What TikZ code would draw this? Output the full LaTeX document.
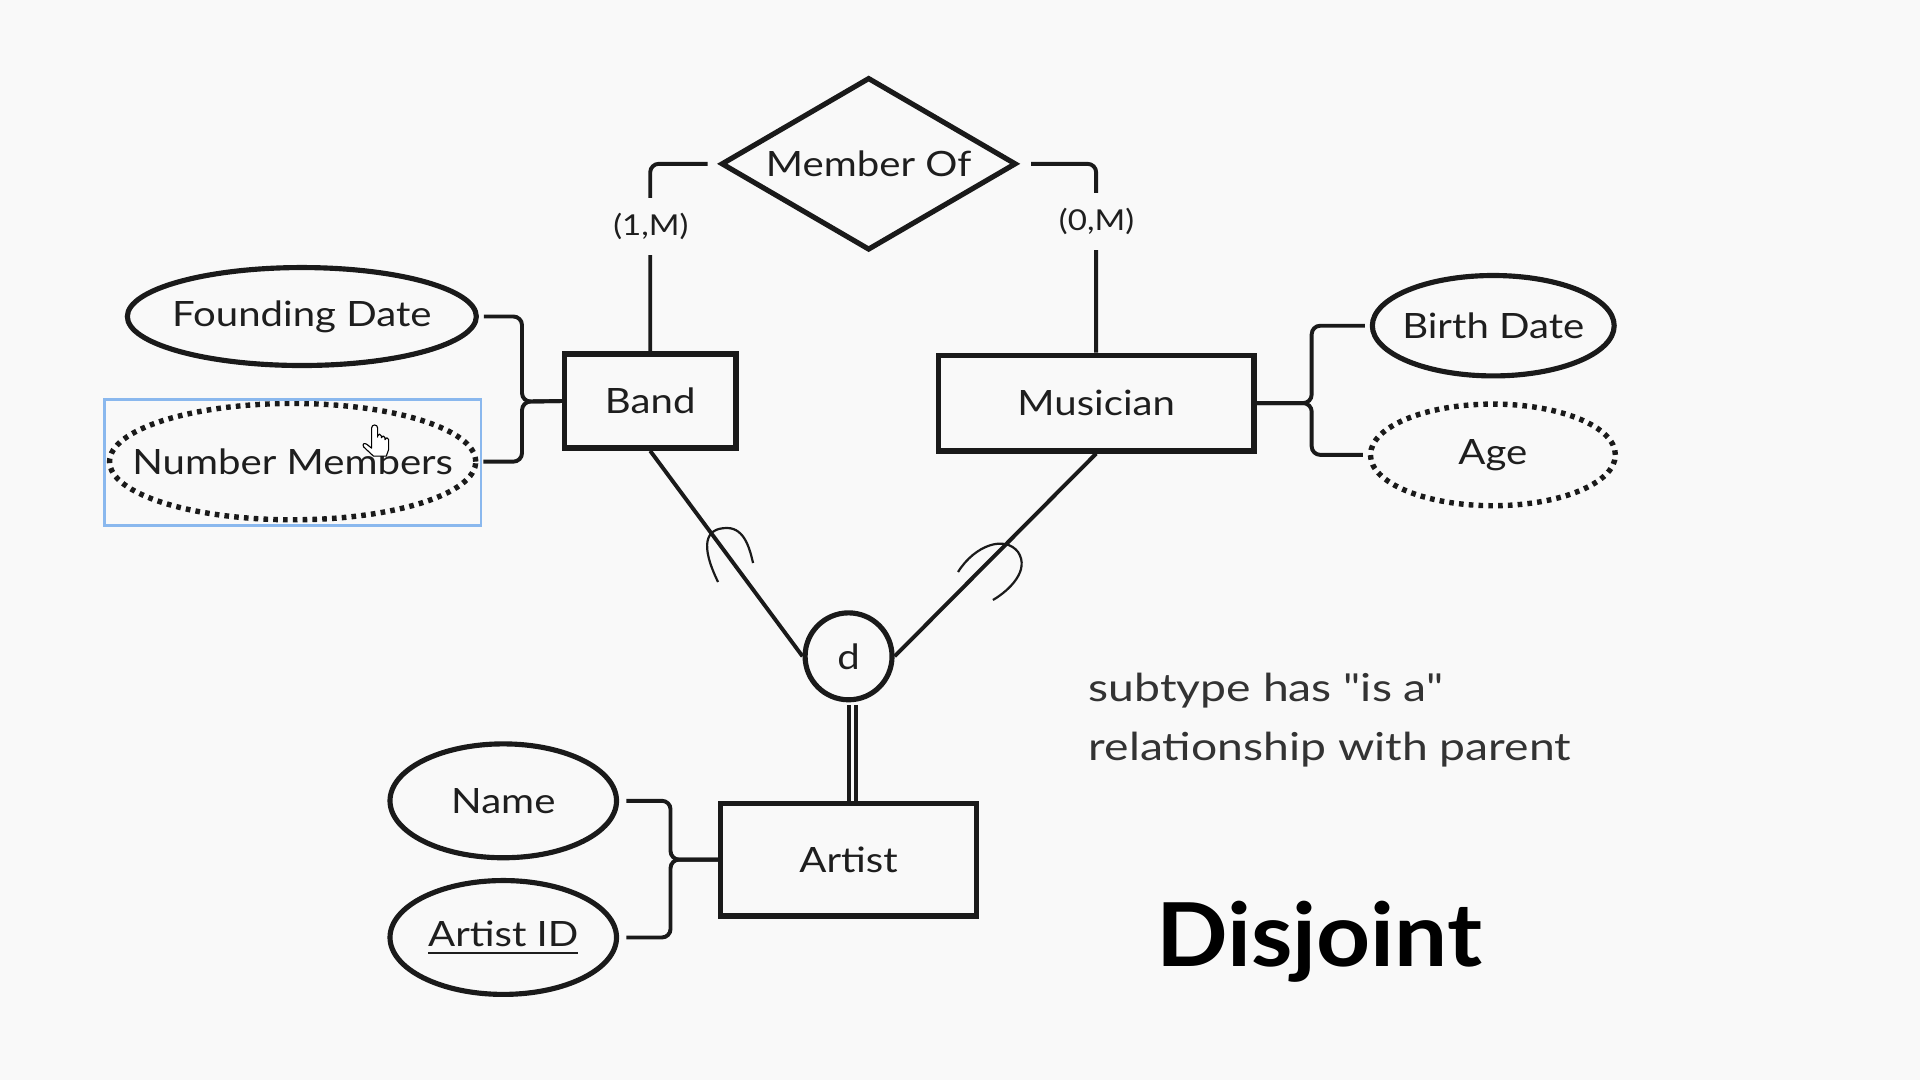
\documentclass[tikz,border=0pt]{standalone}
\usepackage{fontspec}
\setmainfont[FakeStretch=1.15]{Lato}
\newfontfamily\notefamily[FakeStretch=1.2]{Lato}
\newfontfamily\djfamily[FakeStretch=1.07]{Lato}
\usetikzlibrary{shapes.geometric}
\definecolor{bg}{HTML}{F9F9F9}
\definecolor{ink}{HTML}{1A1A1A}
\definecolor{txt}{HTML}{1E1E1E}
\definecolor{note}{HTML}{333333}
\definecolor{selblue}{RGB}{138,184,238}
\newcommand\lblfont{\fontsize{28.5}{34}\selectfont}
\newcommand\cardfont{\fontsize{23.5}{28}\selectfont}
\newcommand\notefont{\notefamily\fontsize{31.5}{36}\selectfont}
\newcommand\djfont{\djfamily\bfseries\fontsize{72}{80}\selectfont}
\newcommand\thickul[1]{\setbox0\hbox{#1}\rlap{\rule[-6.5pt]{\wd0}{2pt}}\box0}
\newcommand\zw[1]{\makebox[0pt]{#1}}
\newcommand\straightq{{\addfontfeatures{Ligatures=TeXOff}"}}
\begin{document}
\begin{tikzpicture}[x=1pt,y=-1pt,
  entity/.style={draw=ink, line width=4.4pt, rectangle, inner sep=0pt, text=txt, font=\lblfont},
  attr/.style={draw=ink, line width=4.2pt, ellipse, inner sep=0pt, text=txt, font=\lblfont},
  derived/.style={attr, line width=4.4pt, dash pattern=on 3.8pt off 4.2pt},
  rel/.style={draw=ink, line width=4.2pt, diamond, inner sep=0pt, text=txt, font=\lblfont},
  link/.style={draw=ink, line width=3.2pt, rounded corners=7pt},
  isaline/.style={draw=ink, line width=3.2pt},
  subsetarc/.style={draw=ink, line width=1.8pt},
  card/.style={fill=bg, inner sep=0pt, text=txt, font=\cardfont},
  disjc/.style={circle, draw=ink, line width=4.2pt, inner sep=0pt, text=txt, font=\lblfont}]
\useasboundingbox (0,0) rectangle (1568,882);
\fill[bg] (0,0) rectangle (1568,882);

% nodes
\node[rel, minimum width=241pt, minimum height=141pt] (mo) at (709.4,133.8) {\zw{Member Of}};
\node[entity, minimum width=140pt, minimum height=77pt] (band) at (531,327.5) {Band};
\node[entity, minimum width=258pt, minimum height=78pt] (mus) at (895.2,329.2) {Musician};
\node[entity, minimum width=209pt, minimum height=92pt] (artist) at (693,702) {Artist};
\node[attr, minimum width=285pt, minimum height=80pt] (fd) at (246.5,258.5) {\zw{Founding Date}};
\node[derived, minimum width=299pt, minimum height=95pt] (nm) at (239,377) {\zw{Number Members}};
\node[attr, minimum width=197.5pt, minimum height=82pt] (bd) at (1219.5,266) {\zw{Birth Date}};
\node[derived, minimum width=200pt, minimum height=83pt] (age) at (1219.2,371.5) {\zw{Age}};
\node[attr, minimum width=185pt, minimum height=93pt] (name) at (411,654) {\zw{Name}};
\node[attr, minimum width=185pt, minimum height=93pt] (aid) at (411,765.6) {\zw{\thickul{Artist ID}}};
\node[disjc, minimum size=71pt] (d) at (693,536) {d};

% junction coordinates
\coordinate (bl) at (426.3,328);
\coordinate (br) at (1071.2,329.2);
\coordinate (bn) at (547.6,702);

% relationship connectors
\draw[link] ([xshift=-9pt]mo.west) -| (band.north);
\draw[link] ([xshift=10pt]mo.east) -| (mus.north);
\node[card, minimum height=46pt] (c1) at (531.5,185) {(1,M)};
\node[card, minimum height=46pt] (c2) at (895.5,181) {(0,M)};

% attribute brackets
\draw[link] ([xshift=4pt]fd.east) -| (bl) -- (band.west);
\draw[link] ([xshift=4pt]nm.east) -| (bl) -- (band.west);
\draw[link] ([xshift=-4pt]bd.west) -| (br) -- (mus.east);
\draw[link] ([xshift=-4pt]age.west) -| (br) -- (mus.east);
\draw[link] ([xshift=6pt]name.east) -| (bn) -- (artist.west);
\draw[link] ([xshift=6pt]aid.east) -| (bn) -- (artist.west);

% specialization
\draw[isaline] (band.south) -- (d.west);
\draw[isaline] (mus.south) -- (d.east);
\draw[isaline] ([xshift=0pt,yshift=-2pt]d.south) -- ([xshift=0pt]artist.north);
\draw[isaline] ([xshift=6pt,yshift=-2pt]d.south) -- ([xshift=6pt]artist.north);

% subset symbols
\draw[subsetarc] (586.4,475.3) .. controls (571.7,445.1) and (575.8,431.2) .. (593.7,431.2)
  .. controls (608.4,431.2) and (612.5,449.2) .. (615,459.8);
\draw[subsetarc] (782.4,467.1) .. controls (796.2,445.1) and (820.7,436.9) .. (831.4,450.8)
  .. controls (841.2,465.5) and (824.8,481.8) .. (810.9,490.0);

% selection box
\draw[selblue, line width=2pt] (85.4,326.3) rectangle (392.6,429);

% mouse cursor
\draw[fill=white, draw=black, line width=0.9pt, line join=round]
  (303.5,363) -- (303.5,349.5) arc[start angle=180,end angle=0,radius=2.45pt]
  -- (308.4,357) -- (308.4,356) arc[start angle=180,end angle=0,radius=1.5pt]
  -- (311.4,357.5) arc[start angle=180,end angle=0,radius=1.5pt]
  -- (314.4,359) arc[start angle=180,end angle=0,radius=1.5pt]
  -- (317.4,367) -- (315.5,372.5) -- (305,372.5) -- (297,365)
  .. controls (295.5,362.5) and (297.5,361.5) .. (299.5,362.8) -- (303.5,366) -- cycle;

% notes
\node[anchor=base west, inner sep=0pt, font=\notefont, text=note] (n1) at (889,573) {subtype has \straightq is a\straightq};
\node[anchor=base west, inner sep=0pt, font=\notefont, text=note] (n2) at (889,620.7) {relationship with parent};
\node[anchor=base, inner sep=0pt, font=\djfont, text=black] (dj) at (1077.3,789.4) {Disjoint};
\end{tikzpicture}
\end{document}
